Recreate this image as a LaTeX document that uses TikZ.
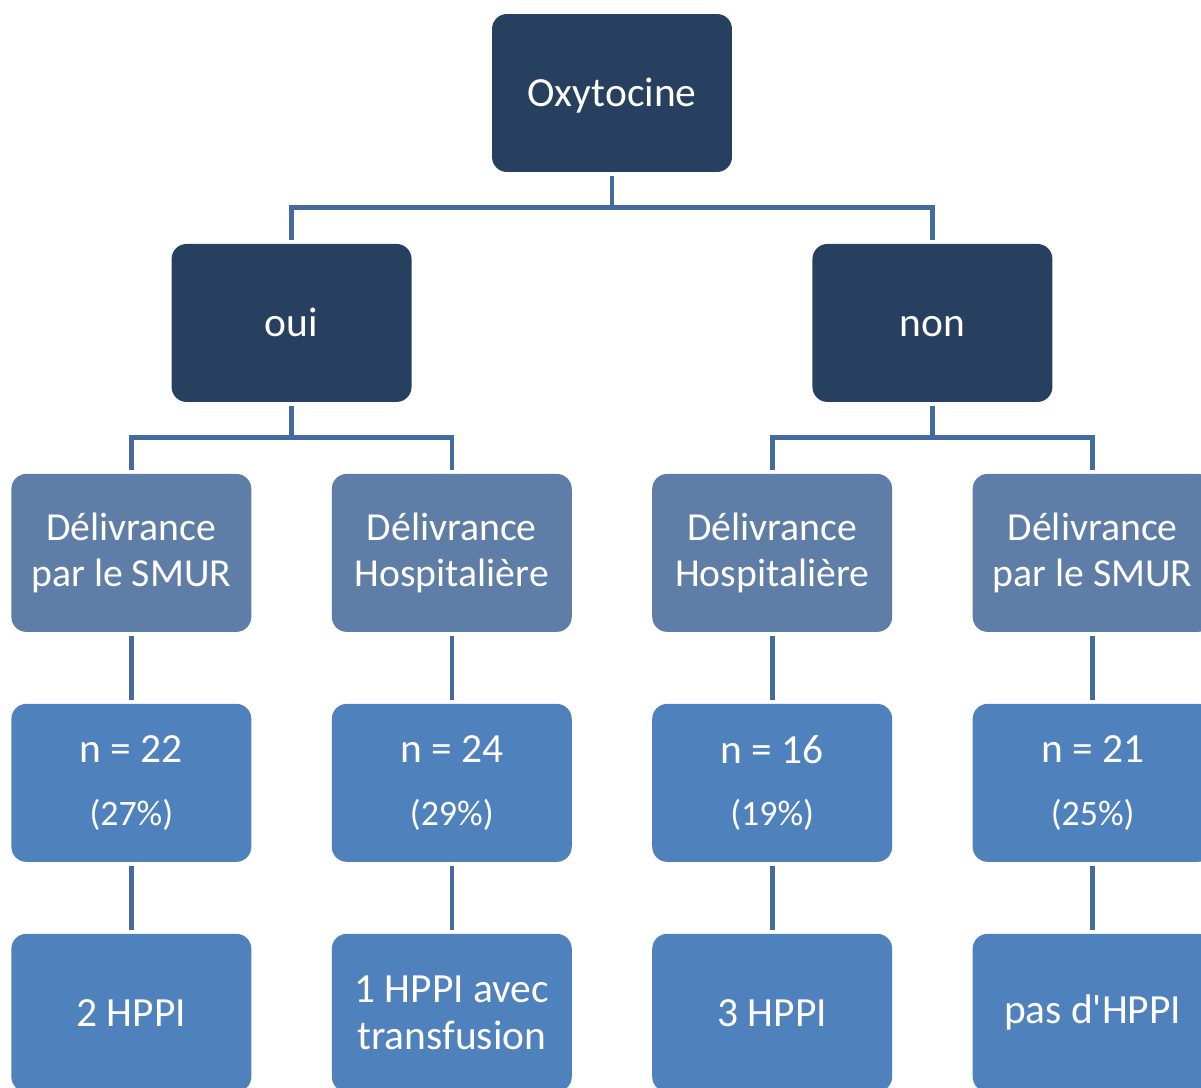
\documentclass[tikz,border=0pt]{standalone}
\usepackage{fontspec}
\setmainfont{Carlito}
\definecolor{navy}{HTML}{27405F}
\definecolor{slate}{HTML}{5F7EA7}
\definecolor{steel}{HTML}{4F81BD}
\definecolor{wire}{HTML}{446A9E}
\begin{document}
\begin{tikzpicture}[x=0.02cm,y=-0.02cm,
        every node/.style={rounded corners=0.3cm,text=white,align=center,
            minimum width=4.8cm,minimum height=3.16cm,inner sep=0pt},
        topbox/.style={fill=navy,font=\fontsize{23.6}{28}\selectfont,text height=0.54cm,text depth=0pt},
        midbox/.style={fill=slate,font=\fontsize{22.6}{26.6}\selectfont},
        lowbox/.style={fill=steel,font=\fontsize{23.6}{26.6}\selectfont},
        elbow/.style={edge from parent path={(\tikzparentnode.south) -- ++(0,-0.7cm) -| (\tikzchildnode.north)}},
        edge from parent/.style={draw=wire,line width=2.6pt,shorten <=2pt,shorten >=2pt},
        level distance=4.6cm,
        level 1/.style={sibling distance=12.82cm,elbow},
        level 2/.style={sibling distance=6.41cm,elbow}
    ]
        \useasboundingbox (0,0) rectangle (1201,1088);
        \node[topbox] (oxy) at (612,93) {Oxytocine}
        child {node[topbox] (oui) {oui}
            child {node[midbox] (oui-smur) {Délivrance\\par le SMUR}
                child {node[lowbox] (oui-smur-n) {n = 22\\[9pt]{\fontsize{20.4}{24}\selectfont (27\%)}}
                    child {node[lowbox] (oui-smur-h) {2 HPPI}}
                }
            }
            child {node[midbox] (oui-hosp) {Délivrance\\Hospitalière}
                child {node[lowbox] (oui-hosp-n) {n = 24\\[9pt]{\fontsize{20.4}{24}\selectfont (29\%)}}
                    child {node[lowbox] (oui-hosp-h) {1 HPPI avec\\transfusion}}
                }
            }
        }
        child {node[topbox] (non) {non}
            child {node[midbox] (non-hosp) {Délivrance\\Hospitalière}
                child {node[lowbox] (non-hosp-n) {n = 16\\[9pt]{\fontsize{20.4}{24}\selectfont (19\%)}}
                    child {node[lowbox] (non-hosp-h) {3 HPPI}}
                }
            }
            child {node[midbox] (non-smur) {Délivrance\\par le SMUR}
                child {node[lowbox] (non-smur-n) {n = 21\\[9pt]{\fontsize{20.4}{24}\selectfont (25\%)}}
                    child {node[lowbox] (non-smur-h) {pas d\textquotesingle HPPI}}
                }
            }
        };
    \end{tikzpicture}
\end{document}
